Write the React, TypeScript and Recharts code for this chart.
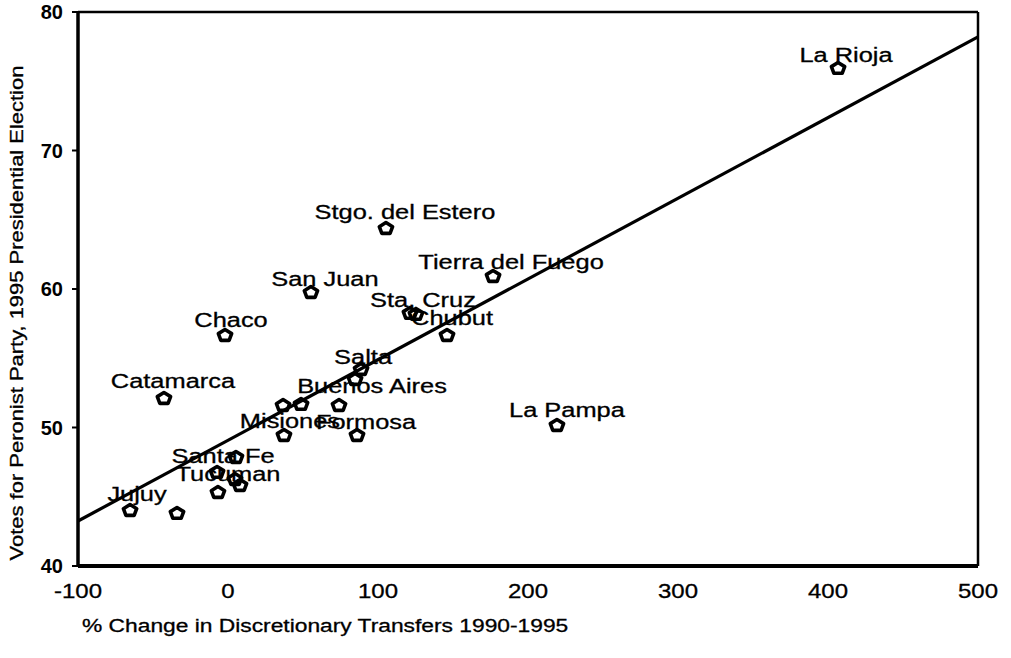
import React from "react";
import {
  ScatterChart,
  Scatter,
  XAxis,
  YAxis,
  ReferenceLine,
} from "recharts";

// provinces ("" = unlabeled point)
const provinces = [
  "La Rioja",
  "Stgo. del Estero",
  "Tierra del Fuego",
  "San Juan",
  "Sta. Cruz",
  "",
  "Chubut",
  "Chaco",
  "Salta",
  "",
  "Catamarca",
  "",
  "",
  "Buenos Aires",
  "Misiones",
  "Formosa",
  "La Pampa",
  "",
  "Santa Fe",
  "",
  "",
  "Tucuman",
  "Jujuy",
  "",
];

// % change in discretionary transfers 1990-1995
const transferChange = [
  406.7, 105.3, 176.7, 55.3, 121.3, 125.3, 146, -2, 88.7, 84.7, -42.7, 36.7,
  48.7, 74, 37.3, 86, 219.3, 5.3, -7.3, 4.7, 8, -6.7, -65.3, -34,
];

// votes for Peronist party, 1995
const peronistVote = [
  75.96, 64.4, 60.94, 59.78, 58.27, 58.2, 56.68, 56.68, 54.22, 53.5, 52.13,
  51.62, 51.7, 51.62, 49.46, 49.46, 50.18, 47.87, 46.79, 46.28, 45.85, 45.34,
  44.04, 43.83,
];

const xTicks = [-100, 0, 100, 200, 300, 400, 500];
const yTicks = [40, 50, 60, 70, 80];

// fitted regression line endpoints
const fitLine = [
  { x: -100, y: 43.25 },
  { x: 500, y: 78.2 },
];

const points = provinces.map((name, i) => ({
  name,
  x: transferChange[i],
  y: peronistVote[i],
}));

// label centre offsets from marker (px)
const LABEL_OFFSETS: Record<string, [number, number]> = {
  "La Rioja": [8, -13],
  "Stgo. del Estero": [19, -16],
  "Tierra del Fuego": [18, -14],
  "San Juan": [14, -13],
  "Sta. Cruz": [13, -13],
  Chubut: [5, -17],
  Chaco: [6, -15],
  Salta: [2, -12],
  "Buenos Aires": [33, -19],
  Catamarca: [9, -17],
  Misiones: [6, -14],
  Formosa: [9, -13],
  "La Pampa": [10, -15],
  "Santa Fe": [6, -16],
  Tucuman: [10, -18],
  Jujuy: [7, -16],
};

const FONT = "'Liberation Sans', Arial, Helvetica, sans-serif";

const PENTAGON = [0, 1, 2, 3, 4].map((k) => {
  const a = (-90 + k * 72) * (Math.PI / 180);
  return [Math.cos(a) * 7, Math.sin(a) * 6 + 0.5];
});

function ProvinceMarker(props: any) {
  const { cx, cy, payload } = props;
  const pts = PENTAGON.map(([px, py]) => `${cx + px},${cy + py}`).join(" ");
  const off = LABEL_OFFSETS[payload.name] || [8, -15];
  return (
    <g>
      <polygon
        points={pts}
        fill="none"
        stroke="#000"
        strokeWidth={3.6}
        strokeLinejoin="round"
      />
      {payload.name && (
        <text
          transform={`translate(${cx + off[0]},${cy + off[1]}) scale(1.27,1)`}
          textAnchor="middle"
          dominantBaseline="central"
          fontSize={20}
          fontFamily={FONT}
          stroke="#000"
          strokeWidth={0.3}
          fill="#000"
        >
          {payload.name}
        </text>
      )}
    </g>
  );
}

function XTick(props: any) {
  const { x, payload } = props;
  return (
    <text
      transform={`translate(${x},598) scale(1.2,1)`}
      textAnchor="middle"
      fontSize={20}
      fontFamily={FONT}
      stroke="#000"
      strokeWidth={0.3}
      fill="#000"
    >
      {payload.value}
    </text>
  );
}

function YTick(props: any) {
  const { y, payload } = props;
  return (
    <text
      x={63}
      y={y}
      textAnchor="end"
      dominantBaseline="central"
      fontSize={20}
      fontWeight="bold"
      fontFamily={FONT}
      fill="#000"
    >
      {payload.value}
    </text>
  );
}

export default function App() {
  return (
    <div style={{ position: "absolute", left: 0, top: 0, background: "#fff" }}>
      <ScatterChart
        width={1011}
        height={658}
        margin={{ top: 12, right: 33, bottom: 32, left: 18 }}
      >
        <XAxis
          type="number"
          dataKey="x"
          domain={[-100, 500]}
          ticks={xTicks}
          height={60}
          axisLine={{ stroke: "#000", strokeWidth: 4 }}
          tickLine={false}
          tick={<XTick />}
          interval={0}
          label={{
            content: () => (
              <text
                transform="translate(82,632) scale(1.2,1)"
                fontSize={19}
                fontFamily={FONT}
                stroke="#000"
                strokeWidth={0.3}
                fill="#000"
              >
                % Change in Discretionary Transfers 1990-1995
              </text>
            ),
          }}
        />
        <YAxis
          type="number"
          dataKey="y"
          domain={[40, 80]}
          ticks={yTicks}
          width={60}
          axisLine={{ stroke: "#000", strokeWidth: 3.5 }}
          tickLine={{ stroke: "#000", strokeWidth: 2 }}
          tickSize={6}
          tick={<YTick />}
          interval={0}
          label={{
            content: () => (
              <text
                transform="translate(17,313) rotate(-90) scale(1.22,1)"
                textAnchor="middle"
                dominantBaseline="central"
                fontSize={18}
                fontFamily={FONT}
                stroke="#000"
                strokeWidth={0.3}
                fill="#000"
              >
                Votes for Peronist Party, 1995 Presidential Election
              </text>
            ),
          }}
        />
        <ReferenceLine y={80} stroke="#000" strokeWidth={2.5} />
        <ReferenceLine x={500} stroke="#000" strokeWidth={2.5} />
        <ReferenceLine segment={fitLine} stroke="#000" strokeWidth={3.2} />
        <Scatter
          data={points}
          shape={<ProvinceMarker />}
          isAnimationActive={false}
        />
      </ScatterChart>
    </div>
  );
}
